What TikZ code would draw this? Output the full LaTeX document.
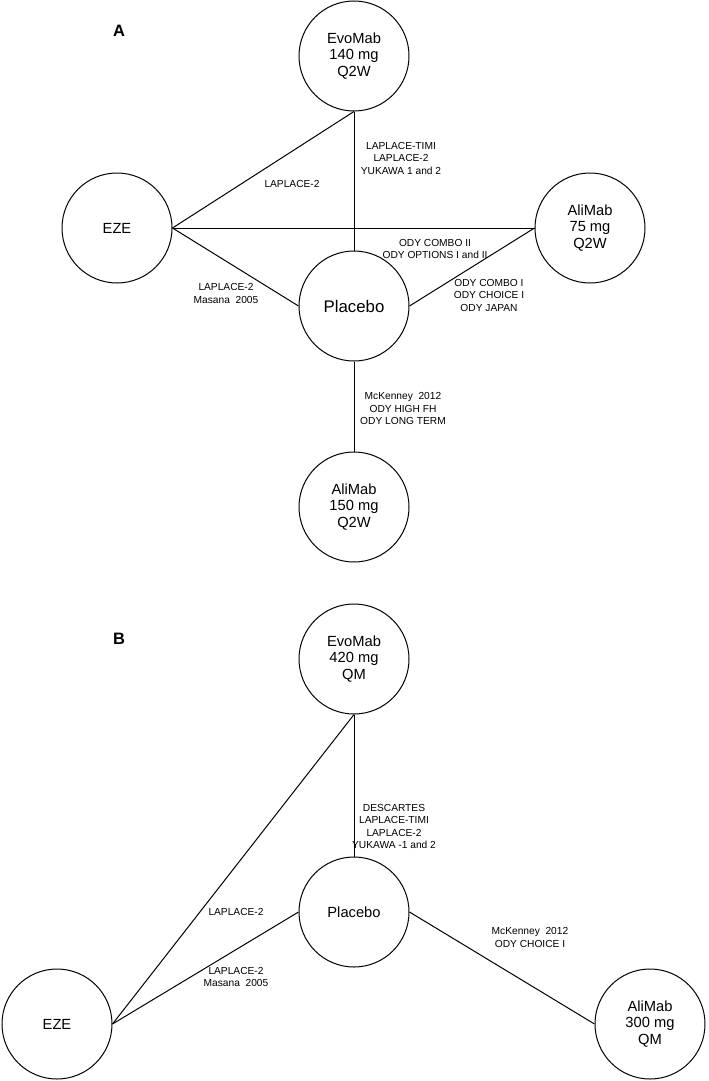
\documentclass[tikz,border=0pt]{standalone}
\usepackage{fontspec}
\setmainfont{Liberation Sans}
\begin{document}
\begin{tikzpicture}[x=1pt,y=-1pt,
  trt/.style={draw=black, circle, line width=1pt, minimum size=110pt, inner sep=0pt,
    align=center, font=\fontsize{14.7}{16.5}\selectfont},
  plc/.style={trt, font=\fontsize{16.8}{18}\selectfont},
  lbl/.style={align=center, inner sep=0pt, font=\fontsize{10.2}{12.5}\selectfont},
  panel/.style={inner sep=0pt, font=\fontsize{16.5}{18}\selectfont\bfseries},
  edge/.style={draw=black, line width=1pt}]
\useasboundingbox (0,0) rectangle (709,1081);
\fill[white] (0,0) rectangle (709,1081);

% ---------- Panel A ----------
\node[panel] (pA) at (119,31) {A};
\node[trt] (evoA) at (354,56) {EvoMab\\140 mg\\Q2W};
\node[trt] (ezeA) at (117,228) {EZE};
\node[trt] (aliA75) at (590,228) {AliMab\\75 mg\\Q2W};
\node[plc] (plcA) at (354,306) {Placebo};
\node[trt] (aliA150) at (354,507) {AliMab\\150 mg\\Q2W};

\draw[edge] (ezeA.east) -- (evoA.south);
\draw[edge] (evoA.south) -- (plcA.north);
\draw[edge] (ezeA.east) -- (aliA75.west);
\draw[edge] (ezeA.east) -- (plcA.west);
\draw[edge] (aliA75.west) -- (plcA.east);
\draw[edge] (plcA.south) -- (aliA150.north);

\node[lbl] (lA1) at (292,184) {LAPLACE-2};
\node[lbl] (lA2) at (401,158) {LAPLACE-TIMI\\LAPLACE-2\\YUKAWA 1 and 2};
\node[lbl] (lA3) at (435,249) {ODY COMBO II\\ODY OPTIONS I and II};
\node[lbl] (lA4) at (226,293.5) {LAPLACE-2\\Masana~ 2005};
\node[lbl] (lA5) at (489,295) {ODY COMBO I\\ODY CHOICE I\\ODY JAPAN};
\node[lbl] (lA6) at (403,408.5) {McKenney~ 2012\\ODY HIGH FH\\ODY LONG TERM};

% ---------- Panel B ----------
\node[panel] (pB) at (119,639) {B};
\node[trt] (evoB) at (354,659) {EvoMab\\420 mg\\QM};
\node[trt] (plcB) at (354,912) {Placebo};
\node[trt] (ezeB) at (57,1024) {EZE};
\node[trt] (aliB300) at (650,1024) {AliMab\\300 mg\\QM};

\draw[edge] (evoB.south) -- (ezeB.east);
\draw[edge] (evoB.south) -- (plcB.north);
\draw[edge] (ezeB.east) -- (plcB.west);
\draw[edge] (plcB.east) -- (aliB300.west);

\node[lbl] (lB1) at (394,826.5) {DESCARTES\\LAPLACE-TIMI\\LAPLACE-2\\YUKAWA -1 and 2};
\node[lbl] (lB2) at (236,912) {LAPLACE-2};
\node[lbl] (lB3) at (236,977) {LAPLACE-2\\Masana~ 2005};
\node[lbl] (lB4) at (530,937.5) {McKenney~ 2012\\ODY CHOICE I};
\end{tikzpicture}
\end{document}
